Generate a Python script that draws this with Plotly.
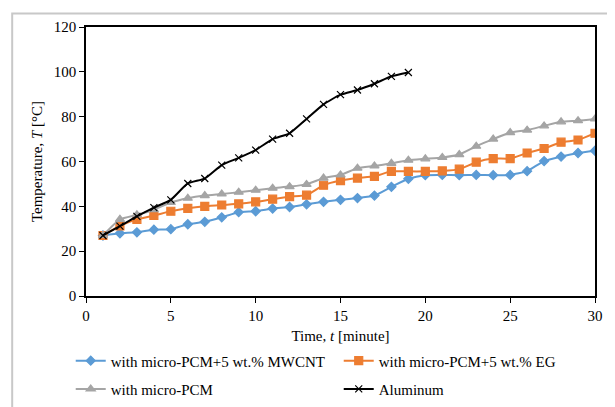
import plotly.graph_objects as go

# time in minutes
time_min = list(range(1, 31))
time_al = list(range(1, 20))

# temperatures (°C)
temp_mwcnt = [27.0, 28.0, 28.4, 29.6, 29.8, 32.0, 33.1, 35.1, 37.4, 37.8,
              39.0, 39.7, 40.9, 42.0, 42.9, 43.7, 44.8, 48.7, 52.3, 53.9,
              54.0, 53.9, 54.0, 53.9, 54.0, 55.7, 60.2, 62.2, 63.8, 64.8]
temp_eg = [27.0, 31.3, 34.2, 35.9, 37.8, 39.1, 40.0, 40.6, 41.1, 42.0,
           43.2, 44.3, 45.0, 49.4, 51.5, 52.6, 53.4, 55.6, 55.6, 55.6,
           55.8, 56.6, 59.7, 61.3, 61.3, 63.8, 65.8, 68.6, 69.6, 72.6]
temp_pcm = [27.0, 34.2, 36.2, 38.5, 41.7, 43.6, 44.8, 45.5, 46.3, 47.2,
            48.1, 48.8, 49.8, 52.6, 54.0, 57.0, 58.0, 59.2, 60.6, 61.2,
            61.8, 63.1, 66.8, 70.0, 72.9, 74.0, 75.9, 77.7, 78.2, 79.0]
temp_al = [27.0, 31.2, 35.5, 39.4, 42.9, 50.2, 52.4, 58.4, 61.6, 65.1,
           70.0, 72.6, 79.0, 85.5, 89.8, 91.9, 94.7, 98.0, 99.7]

# name, x, y, colour, marker, marker size, legend row
series = [
    ("with micro-PCM+5 wt.% MWCNT", time_min, temp_mwcnt, "#5B9BD5", "diamond", 7, "legend"),
    ("with micro-PCM+5 wt.% EG", time_min, temp_eg, "#ED7D31", "square", 8, "legend"),
    ("with micro-PCM", time_min, temp_pcm, "#A5A5A5", "triangle-up", 8, "legend2"),
    ("Aluminum", time_al, temp_al, "#000000", "x-thin", 7, "legend2"),
]

fig = go.Figure()
for name, x, y, color, symbol, size, leg in series:
    fig.add_trace(go.Scatter(
        x=x, y=y, name=name, mode="lines+markers", legend=leg,
        line=dict(color=color, width=2, shape="spline", smoothing=0.5),
        marker=dict(symbol=symbol, size=size, color=color,
                    line=dict(color=color, width=1.2)),
    ))

font = dict(family="Liberation Serif", size=15, color="#000000")

fig.update_xaxes(
    range=[0, 30], dtick=5, ticks="outside", ticklen=5, tickcolor="black",
    showline=True, linecolor="black", linewidth=1.5, mirror=True,
    showgrid=False, zeroline=False, tickfont=font,
    title=dict(text="Time, <i>t</i> [minute]", font=font, standoff=8),
)
fig.update_yaxes(
    range=[0, 120], dtick=20, ticks="outside", ticklen=5, tickcolor="black",
    showline=True, linecolor="black", linewidth=1.5, mirror=True,
    showgrid=False, zeroline=False, tickfont=font,
    title=dict(text="Temperature, <i>T</i> [°C]", font=font, standoff=8),
)

# light grey chart frame (only left and top edges fall inside the image)
fig.add_shape(type="rect", xref="paper", yref="paper",
              x0=-0.145, x1=1.5, y0=-1.0, y1=1.05,
              line=dict(color="#C8C8C8", width=2), layer="below")

legend_style = dict(orientation="h", x=-0.03, xanchor="left", yanchor="top",
                    entrywidth=223, font=font, itemwidth=30,
                    bgcolor="rgba(0,0,0,0)")

# the page adds an 8px body margin, so the figure runs a little past the window
fig.update_layout(
    width=615, height=415,
    margin=dict(l=78, r=28, t=11, b=127),
    paper_bgcolor="white", plot_bgcolor="white",
    font=font,
    legend=dict(y=-0.180, **legend_style),
    legend2=dict(y=-0.285, **legend_style),
)

fig.write_html("out.html")
